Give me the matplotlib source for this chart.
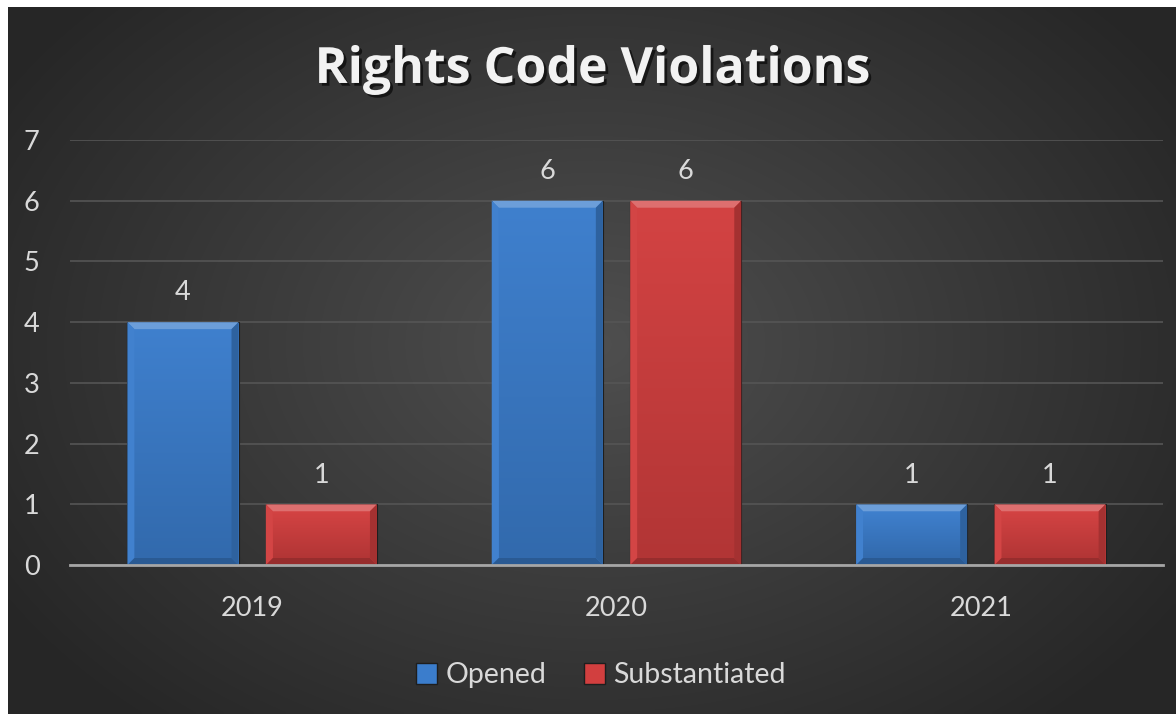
import numpy as np
import matplotlib
matplotlib.use("Agg")
import matplotlib.pyplot as plt
import matplotlib.patheffects as pe
from matplotlib.patches import Polygon, Rectangle

years = ["2019", "2020", "2021"]
opened = [4, 6, 1]
substantiated = [1, 6, 1]
y_ticks = [0, 1, 2, 3, 4, 5, 6, 7]

FONT = "Lato"
TXT = "#d9d9d9"
BLUE = "#3b7dcc"
RED = "#d23f3f"


def shade(color, f):
    c = np.array(matplotlib.colors.to_rgb(color))
    if f > 0:
        c = c + (1 - c) * f
    else:
        c = c * (1 + f)
    return tuple(np.clip(c, 0, 1))


def bevel(ax, bar, color, px_x, px_y):
    x0, y0 = bar.get_x(), bar.get_y()
    w, h = bar.get_width(), bar.get_height()
    x1, y1 = x0 + w, y0 + h
    bx, by = 7 * px_x, 7 * px_y
    # top (light), left (slightly light), right (dark), bottom (dark)
    ax.add_patch(Polygon([(x0, y1), (x1, y1), (x1 - bx, y1 - by), (x0 + bx, y1 - by)],
                         closed=True, color=shade(color, 0.25), lw=0, zorder=3))
    ax.add_patch(Polygon([(x0, y0), (x0, y1), (x0 + bx, y1 - by), (x0 + bx, y0 + by)],
                         closed=True, color=shade(color, 0.03), lw=0, zorder=3))
    ax.add_patch(Polygon([(x1, y0), (x1, y1), (x1 - bx, y1 - by), (x1 - bx, y0 + by)],
                         closed=True, color=shade(color, -0.22), lw=0, zorder=3))
    ax.add_patch(Polygon([(x0, y0), (x1, y0), (x1 - bx, y0 + by), (x0 + bx, y0 + by)],
                         closed=True, color=shade(color, -0.28), lw=0, zorder=3))
    # vertical gradient on face
    grad = np.linspace(0, 1, 64).reshape(-1, 1)
    c_top = np.array(shade(color, 0.02))
    c_bot = np.array(shade(color, -0.15))
    img = c_bot + (c_top - c_bot) * grad[..., None]
    ax.imshow(img, extent=(x0 + bx, x1 - bx, y0 + by, y1 - by), origin="lower",
              aspect="auto", zorder=2.5, interpolation="bilinear")


fig = plt.figure(figsize=(11.76, 7.14), dpi=100)
fig.patch.set_facecolor("white")

# dark radial background
bg = fig.add_axes([8 / 1176, 0, 1 - 8 / 1176, 707 / 714])
yy, xx = np.mgrid[0:200, 0:300]
r = np.sqrt(((xx - 150) / 190.0) ** 2 + ((yy - 95) / 150.0) ** 2)
v = np.clip(0.31 - 0.17 * r, 0.15, 0.31)
bg.imshow(np.dstack([v, v, v]), aspect="auto", extent=(0, 1, 0, 1), interpolation="bilinear")
bg.set_axis_off()

ax = fig.add_axes([70 / 1176, 149 / 714, 1093 / 1176, 425 / 714])
ax.set_facecolor("none")
ax.set_xlim(-0.5, 2.5)
ax.set_ylim(0, 7)
px_x = 3 / 1093
px_y = 7 / 425

x = np.arange(len(years))
width = 0.305
off = 0.19
b1 = ax.bar(x - off, opened, width, color=BLUE, edgecolor="#1e1e1e", lw=0.8, zorder=2, label="Opened")
b2 = ax.bar(x + off, substantiated, width, color=RED, edgecolor="#1e1e1e", lw=0.8, zorder=2, label="Substantiated")
for bar in b1:
    bevel(ax, bar, BLUE, px_x, px_y)
for bar in b2:
    bevel(ax, bar, RED, px_x, px_y)

for bars, vals in ((b1, opened), (b2, substantiated)):
    for bar, val in zip(bars, vals):
        ax.annotate(str(val), (bar.get_x() + bar.get_width() / 2, bar.get_height()),
                    xytext=(0, 12), textcoords="offset points", ha="center", va="bottom",
                    color=TXT, fontsize=19.5, family=FONT)

ax.set_yticks(y_ticks)
ax.set_xticks(x)
ax.set_xticklabels(years)
ax.tick_params(axis="both", length=0, colors=TXT, labelsize=19.5)
ax.tick_params(axis="y", pad=22)
ax.tick_params(axis="x", pad=22)
for lab in ax.get_xticklabels() + ax.get_yticklabels():
    lab.set_family(FONT)
ax.grid(axis="y", color="#555555", lw=1.2, zorder=0)
ax.set_axisbelow(True)
for s in ["top", "right", "left"]:
    ax.spines[s].set_visible(False)
ax.spines["bottom"].set_color("#a6a6a6")
ax.spines["bottom"].set_linewidth(2)
ax.spines["bottom"].set_zorder(4)

fig.text(0.504, 0.902, "Rights Code Violations", ha="center", va="center", color="#f2f2f2",
         fontsize=36, fontweight="bold", family="Open Sans",
         path_effects=[pe.withSimplePatchShadow(offset=(2, -2), shadow_rgbFace="black", alpha=0.6)])

handles = [Rectangle((0, 0), 1, 1, facecolor=BLUE, edgecolor="#1e1e1e"),
           Rectangle((0, 0), 1, 1, facecolor=RED, edgecolor="#1e1e1e")]
leg = fig.legend(handles, ["Opened", "Substantiated"], loc="center", bbox_to_anchor=(0.511, 0.054),
                 ncol=2, frameon=False, handlelength=0.75, handleheight=0.75, handletextpad=0.3,
                 columnspacing=1.3, prop={"family": FONT, "size": 20.5})
for t in leg.get_texts():
    t.set_color(TXT)

fig.savefig("out.png", dpi=100, facecolor=fig.get_facecolor())
